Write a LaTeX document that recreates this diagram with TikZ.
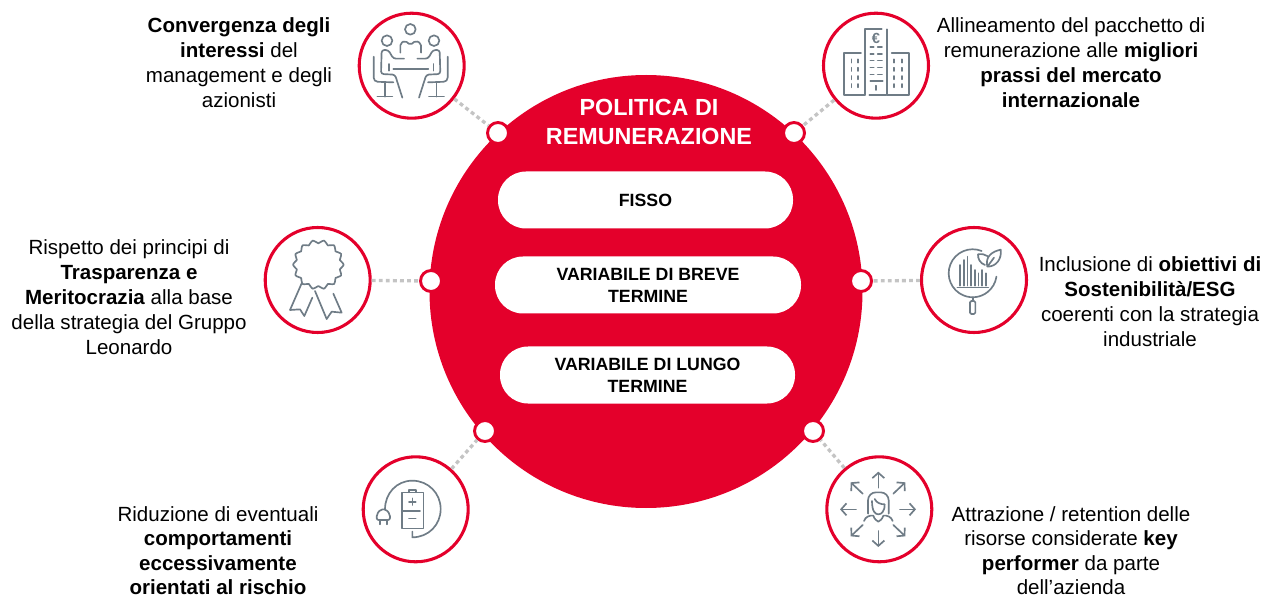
\documentclass[tikz,border=0pt]{standalone}
\usepackage{fontspec}
\setmainfont{Liberation Sans}
\usetikzlibrary{arrows.meta}
\definecolor{lred}{HTML}{E4002B}
\definecolor{icong}{HTML}{6F7C86}
\definecolor{dotg}{HTML}{C4C4C4}
\tikzset{
  mainc/.style={circle,fill=lred,draw=none,minimum size=433*0.75pt,inner sep=0pt},
  port/.style={circle,fill=white,draw=lred,line width=2.2pt,minimum size=21*0.75pt,inner sep=0pt},
  iconc/.style={circle,fill=white,draw=lred,line width=2.3pt,minimum size=105*0.75pt,inner sep=0pt},
  pill/.style={rounded corners=21pt,fill=white,draw=none,minimum width=#1*0.75pt,minimum height=57*0.75pt,inner sep=0pt,align=center,font=\fontsize{13.3}{16.5}\selectfont\bfseries,text=black},
  label/.style={align=center,inner sep=0pt,text=black,font=\fontsize{15.4}{18.7}\selectfont},
  labelb/.style={align=center,inner sep=0pt,text=black,font=\fontsize{15.4}{18.3}\selectfont},
  ttl/.style={align=center,inner sep=0pt,text=white,font=\fontsize{17.5}{21.8}\selectfont\bfseries},
  link/.style={dotg,line width=2.5pt,dash pattern=on 2.9pt off 2.4pt},
  ico/.style={icong,line width=1.25pt,line cap=round,line join=round,x=0.25pt,y=-0.25pt},
  arr/.style={-{Straight Barb[length=4pt,width=9pt,line width=1.25pt]}},
}
\begin{document}
\begin{tikzpicture}[x=0.75pt,y=-0.75pt]
\useasboundingbox (0,0) rectangle (1264,595);
\node[mainc] (main) at (646,291.5) {};
% icon circles
\node[iconc] (c1) at (411.7,65.7) {};
\node[iconc] (c2) at (876,65.7) {};
\node[iconc] (c3) at (317.7,280) {};
\node[iconc] (c4) at (974,280) {};
\node[iconc] (c5) at (415.7,509.3) {};
\node[iconc] (c6) at (879.3,509.3) {};
% ports
\node[port] (p1) at (498,133) {};
\node[port] (p2) at (794,133) {};
\node[port] (p3) at (431,281) {};
\node[port] (p4) at (861,281) {};
\node[port] (p5) at (485,431) {};
\node[port] (p6) at (813,431) {};
% links
\draw[link] (c1) -- (p1);
\draw[link] (c2) -- (p2);
\draw[link] (c3) -- (p3);
\draw[link] (c4) -- (p4);
\draw[link] (c5) -- (p5);
\draw[link] (c6) -- (p6);
% title and pills
\node[ttl] (title) at (649,122) {POLITICA DI\\REMUNERAZIONE};
\node[pill=295] (f) at (645.5,200) {FISSO};
\node[pill=306] (b) at (648,285) {VARIABILE DI BREVE\\TERMINE};
\node[pill=295] (l) at (647.5,375) {VARIABILE DI LUNGO\\TERMINE};
% labels
\node[label] (t1) at (239,62.8) {\textbf{Convergenza degli}\\\textbf{interessi} del\\management e degli\\azionisti};
\node[label] (t2) at (1071,62.8) {Allineamento del pacchetto di\\remunerazione alle \textbf{migliori}\\\textbf{prassi del mercato}\\\textbf{internazionale}};
\node[label] (t3) at (129,297.3) {Rispetto dei principi di\\\textbf{Trasparenza e}\\\textbf{Meritocrazia} alla base\\della strategia del Gruppo\\Leonardo};
\node[label] (t4) at (1150,301.8) {Inclusione di \textbf{obiettivi di}\\\textbf{Sostenibilità/ESG}\\coerenti con la strategia\\industriale};
\node[labelb] (t5) at (218,550.7) {Riduzione di eventuali\\\textbf{comportamenti}\\\textbf{eccessivamente}\\\textbf{orientati al rischio}};
\node[labelb] (t6) at (1071,550.7) {Attrazione / retention delle\\risorse considerate \textbf{key}\\\textbf{performer} da parte\\dell’azienda};
% icon 1 meeting
\begin{scope}[shift={(340,0)},ico]
\draw (211,88) circle[radius=16] (141,122) circle[radius=16] (282,122) circle[radius=16];
\draw[rounded corners=1.5pt] (181,158)--(181,130)--(195,122)--(211,135)--(227,122)--(243,130)--(243,158);
\draw[rounded corners=2pt] (192,176)--(160,176)--(145,150)--(125,150)--(123,222)--(165,224)--(187,293);
\draw[rounded corners=2pt] (232,176)--(264,176)--(279,150)--(299,150)--(301,222)--(259,224)--(237,293);
\draw (160,207)--(265,207) (146,192)--(146,212) (280,192)--(280,212);
\draw[rounded corners=3pt] (101,170)--(101,245)--(160,247);
\draw[rounded corners=3pt] (323,170)--(323,245)--(264,247);
\draw (135,247)--(135,290) (112,290)--(157,290) (289,247)--(289,290) (267,290)--(312,290);
\end{scope}
% icon 2 buildings
\begin{scope}[shift={(780,0)},ico]
\draw (268,285)--(318,285) (254,285)--(254,88)--(305,88) (321,88)--(321,285);
\draw (243,160)--(191,160)--(191,285)--(254,285) (335,160)--(387,160)--(387,285)--(321,285);
\node[icong,inner sep=0pt,font=\fontsize{11}{11}\selectfont\bfseries] (euro) at (288,115) {€};
\foreach \y in {142,162,182,203,224}{\draw (271,\y)--(281,\y) (293,\y)--(306,\y);}
\draw (271,243)--(308,243) (288,257)--(288,270);
\foreach \x in {214,234,342,365}{\foreach \y in {178,203,228,252}{\draw (\x,\y)--(\x,\y+10);}}
\end{scope}
% icon 3 award
\begin{scope}[shift={(250,215)},ico]
\draw plot[smooth cycle,samples=56,domain=0:353.57,variable=\t] ({205+(71+5*cos(14*\t))*cos(\t)},{149+(69+5*cos(14*\t))*sin(\t)});
\draw (155,205)--(120,285)--(150,283)--(163,303)--(187,248);
\draw (195,228)--(230,312)--(245,290)--(275,293)--(250,236);
\end{scope}
% icon 4 ESG
\begin{scope}[shift={(850,215)},ico]
\draw (395,108) arc[start angle=-68,end angle=-352,radius=72];
\foreach \x/\t in {330/150,341/135,352/125,363/150,374/165,385/175,396/165,407/175}{\draw (\x,\t)--(\x,212);}
\draw (322,218)--(415,218);
\draw (368,247)--(368,258);
\draw[rounded corners=1pt] (360,258) rectangle (376,297);
\draw (412,155) .. controls (405,125) and (425,110) .. (452,104) .. controls (456,130) and (440,155) .. (412,155) (412,155)--(432,128);
\draw (405,150) .. controls (390,145) and (383,130) .. (384,118) .. controls (395,116) and (405,118) .. (414,124);
\end{scope}
% icon 5 battery
\begin{scope}[shift={(350,415)},ico]
\draw (155,232) rectangle (220,340);
\draw (177,232)--(177,225)--(197,225)--(197,232);
\draw (155,287)--(210,287);
\draw (177,260)--(197,260) (187,250)--(187,270) (177,310)--(197,310);
\draw (105,283) .. controls (105,235) and (140,197) .. (187,197) .. controls (235,197) and (272,235) .. (272,282) .. controls (272,330) and (235,367) .. (187,367)--(187,350);
\draw[rounded corners=1.5pt] (80,315)--(80,298)--(92,283)--(108,283)--(120,298)--(120,315)--cycle;
\draw (90,315)--(90,328) (110,315)--(110,328);
\end{scope}
% icon 6 person arrows
\begin{scope}[shift={(790,415)},ico]
\foreach \a/\b/\c/\d in {265/218/265/170, 265/348/265/396, 198/283/150/283, 330/283/378/283, 218/236/182/202, 310/236/346/202, 218/330/182/364, 310/330/346/364}{\draw[arr] (\a,\b)--(\c,\d);}
\draw[rounded corners=6pt] (234,296)--(234,232)--(296,232)--(296,296);
\draw (246,258) .. controls (246,290) and (256,298) .. (265,298) .. controls (274,298) and (284,290) .. (284,268) .. controls (272,268) and (260,264) .. (254,252);
\draw (222,318) .. controls (226,305) and (240,300) .. (250,302) .. controls (253,312) and (260,318) .. (265,320) .. controls (270,318) and (277,312) .. (280,302) .. controls (290,300) and (304,305) .. (308,318);
\end{scope}
\end{tikzpicture}
\end{document}
